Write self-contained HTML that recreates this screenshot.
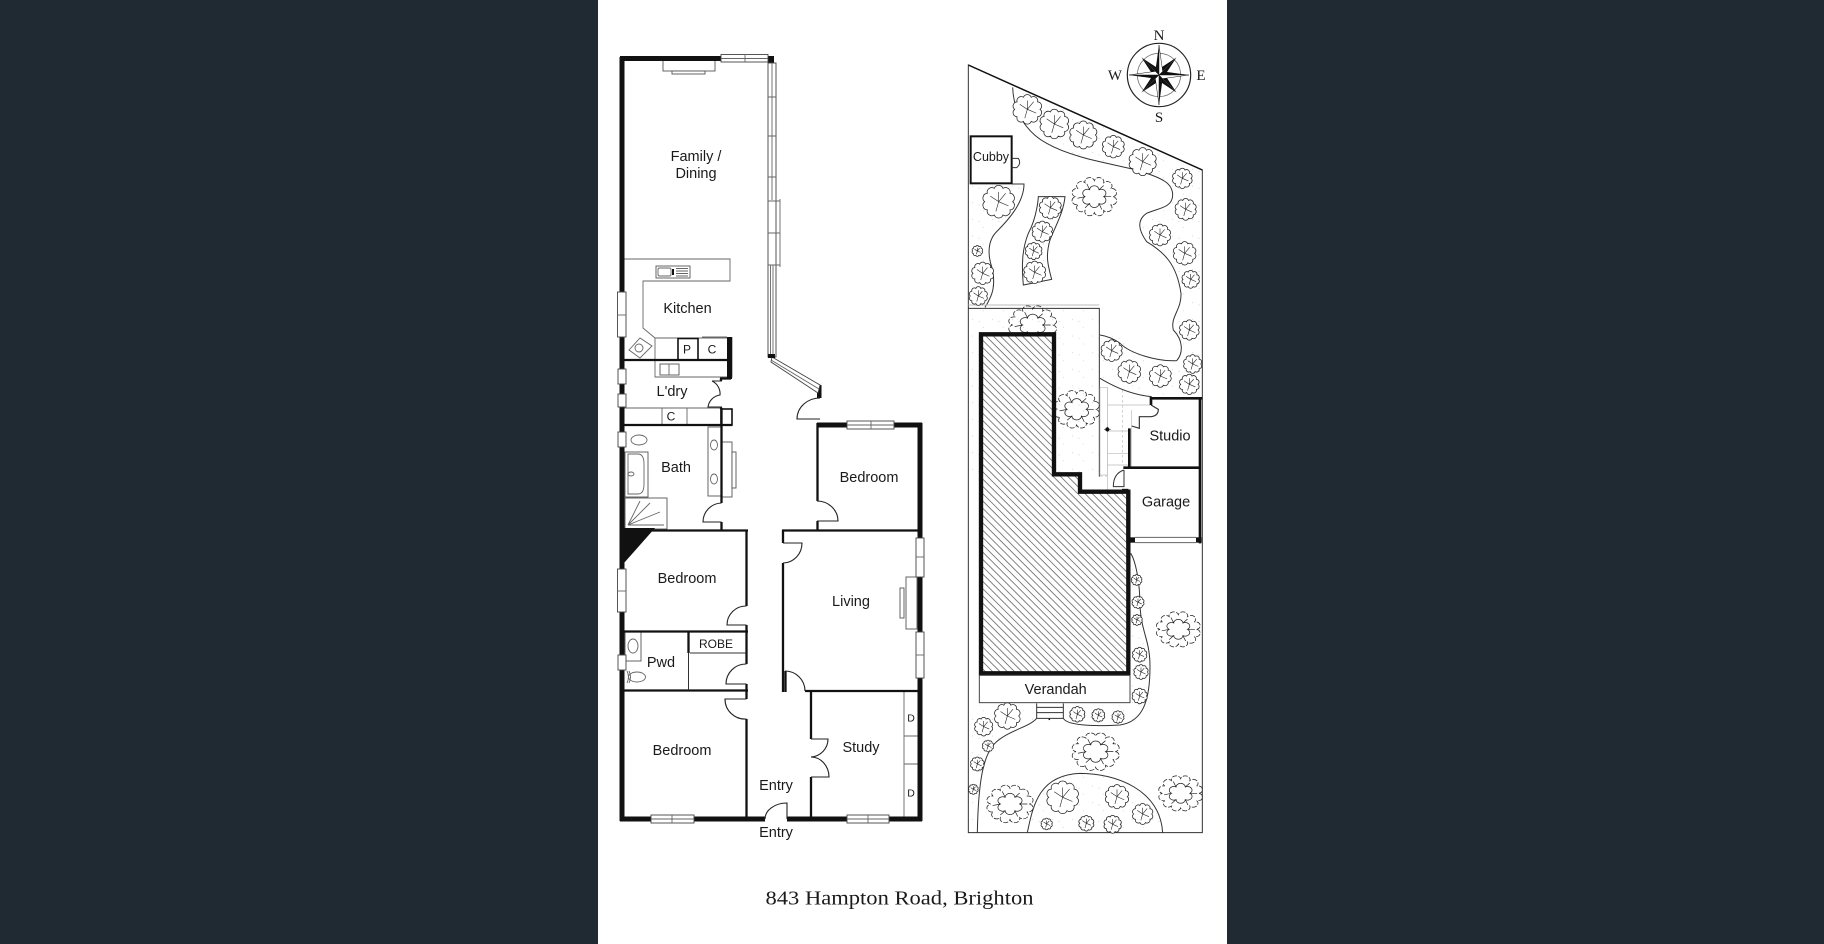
<!DOCTYPE html>
<html><head><meta charset="utf-8"><style>
html,body{margin:0;padding:0;background:#202a33;width:1824px;height:944px;overflow:hidden}
svg{display:block;filter:blur(.3px)}
text{font-family:"Liberation Sans",sans-serif;fill:#1a1a1a;text-anchor:middle}
.t{font-size:14.5px}
.s{font-size:12px}
.w{fill:none;stroke:#111;stroke-width:5}
.m{fill:none;stroke:#111;stroke-width:2.3}
.d{fill:none;stroke:#222;stroke-width:1.1}
.f{fill:#fff;stroke:#555;stroke-width:.9}
.n{fill:none;stroke:#666;stroke-width:.9}
.win{fill:#fff;stroke:#444;stroke-width:.9}
.c{font-family:"Liberation Serif",serif;font-size:15px}
.g{fill:none;stroke:#333;stroke-width:3}
</style></head><body>
<svg width="1824" height="944" viewBox="0 0 1824 944" xmlns="http://www.w3.org/2000/svg">
<defs>
<g id="tr" fill="#fff" stroke="#222">
<path vector-effect="non-scaling-stroke" stroke-width=".75" d="M10 0A3.3 3.3 0 0 1 8.09 5.88A3.3 3.3 0 0 1 3.09 9.51A3.3 3.3 0 0 1 -3.09 9.51A3.3 3.3 0 0 1 -8.09 5.88A3.3 3.3 0 0 1 -10 0A3.3 3.3 0 0 1 -8.09 -5.88A3.3 3.3 0 0 1 -3.09 -9.51A3.3 3.3 0 0 1 3.09 -9.51A3.3 3.3 0 0 1 8.09 -5.88A3.3 3.3 0 0 1 10 0Z"/>
<path vector-effect="non-scaling-stroke" stroke-width=".6" fill="none" d="M0 0L5 -6M0 0L-6 -4M0 0L-2 7M0 0L7 3M0 0L0 -7"/>
</g>
<g id="sh" fill="none" stroke="#222">
<path vector-effect="non-scaling-stroke" stroke-width=".75" d="M10 0A1.9 1.9 0 0 1 8.7 5A1.9 1.9 0 0 1 5 8.7A1.9 1.9 0 0 1 0 10A1.9 1.9 0 0 1 -5 8.7A1.9 1.9 0 0 1 -8.7 5A1.9 1.9 0 0 1 -10 0A1.9 1.9 0 0 1 -8.7 -5A1.9 1.9 0 0 1 -5 -8.7A1.9 1.9 0 0 1 0 -10A1.9 1.9 0 0 1 5 -8.7A1.9 1.9 0 0 1 8.7 -5A1.9 1.9 0 0 1 10 0Z" stroke-dasharray="5 1.5"/>
<path vector-effect="non-scaling-stroke" stroke-width=".75" d="M5 0A1.8 1.8 0 0 1 2.5 4.3A1.8 1.8 0 0 1 -2.5 4.3A1.8 1.8 0 0 1 -5 0A1.8 1.8 0 0 1 -2.5 -4.3A1.8 1.8 0 0 1 2.5 -4.3A1.8 1.8 0 0 1 5 0Z"/>
<path vector-effect="non-scaling-stroke" stroke-width=".7" d="M5 0L9 0M-5 0L-9 1M2.5 4.3L4 8M-2.5 -4.3L-4 -8M2.5 -4.3L5 -7M-2.5 4.3L-5 7"/>
</g>
<pattern id="dots" width="60" height="50" patternUnits="userSpaceOnUse">
<circle cx="8" cy="8" r="1.4" fill="#c4c4c4"/><circle cx="40" cy="32" r="1.4" fill="#ccc"/><rect x="24" y="14" width="7" height="1.5" fill="#d6d6d6"/>
</pattern>
<pattern id="hatch" width="15.5" height="15.5" patternUnits="userSpaceOnUse" patternTransform="rotate(45)">
<rect width="15.5" height="15.5" fill="#fff"/><rect x="0" y="0" width="15.5" height="2.4" fill="#666"/>
</pattern>
<g id="pt"><polygon points="0,-90 0,0 -11,-11" fill="#111"/><polygon points="0,-90 0,0 11,-11" fill="#fff" stroke="#111" stroke-width="1.5"/></g>
<g id="pd"><polygon points="0,-74 0,0 -13,-12" fill="#111"/><polygon points="0,-74 0,0 13,-12" fill="#111"/></g>
</defs>

<rect x="598" y="0" width="629" height="944" fill="#fff"/>

<!-- Fittings -->
<rect class="f" x="663" y="60" width="52" height="11"/><rect class="f" x="672" y="71" width="33" height="3"/>
<path class="n" d="M624 259H730V281H643V328L655 338V360M655 338H727"/>
<rect class="f" x="656" y="266" width="34" height="12"/><rect class="n" x="658" y="268" width="13" height="8" rx="1.5"/>
<path d="M673 269V275" stroke="#111" stroke-width="2"/><path class="n" d="M676 268.5H688M676 271H688M676 273.5H688M676 276H688"/>
<path class="n" d="M629 350L640 338L652 346L640 358Z"/><circle class="n" cx="639" cy="348" r="4"/>
<rect x="678" y="338.5" width="20" height="21.5" fill="#fff" stroke="#111" stroke-width="1.6"/>
<path class="n" d="M702 337H727M655 360V377H732V337M624 408H721M662 408V425M687 408V425"/>
<rect class="f" x="660" y="364" width="19" height="11"/><path class="n" d="M669 364V375"/>
<rect x="721" y="409" width="11" height="16" fill="#fff" stroke="#111" stroke-width="1.6"/>
<rect class="f" x="708" y="427" width="13" height="69"/>
<ellipse class="n" cx="714" cy="445" rx="3.5" ry="5"/><ellipse class="n" cx="714" cy="479" rx="3.5" ry="5"/>
<rect class="f" x="722" y="442" width="10" height="55"/><rect class="f" x="732" y="452" width="4" height="36"/>
<ellipse class="n" cx="639" cy="440" rx="8" ry="5"/>
<rect class="f" x="625" y="452" width="23" height="45"/>
<path class="n" d="M628 454H638Q644 454 644 464V484Q644 494 638 494H628Z"/><ellipse class="n" cx="631" cy="474" rx="3" ry="2"/>
<rect class="f" x="625" y="498" width="42" height="31"/>
<path class="n" d="M628 525L640 501M628 525L650 503M628 525L660 512M628 525L664 525"/>
<polygon points="620,528 655,528 624,563 620,565" fill="#111"/>
<rect class="f" x="625" y="632" width="16" height="29"/><ellipse class="n" cx="633" cy="646" rx="5" ry="7"/>
<ellipse class="n" cx="637" cy="677" rx="8.5" ry="5"/><path class="n" d="M627 671Q630 677 627 683M629 671Q632 677 629 683"/>
<path class="n" d="M904 691V819M904 736H919M904 764H919"/>
<rect class="f" x="906" y="577" width="11" height="52"/><rect class="f" x="900" y="588" width="4" height="30"/>

<!-- Walls -->
<path class="w" d="M622 57V821M620 58.5H721M620 819H765M787 819H922M920 423V821M817 425H922"/>
<path class="m" d="M624 360H728M624 425H732M721.5 408V503M721.5 522V531M624 530.5H748M746.5 530V606M746.5 625V633M624 631.5H748M688.5 631V653M746.5 631V664M746.5 684V699M624 690.5H748M746.5 719V819M811 691V739M811 777V819M805 691H920M782 530.5H920M783 530V543M783 563V692M785.5 671V692M817.5 423V501M817.5 521V531"/>
<path d="M729.5 337V379" stroke="#111" stroke-width="5" fill="none"/>
<path class="m" d="M720 378.5H731M721 378V381M721 407V409"/>
<rect x="817" y="385" width="4.5" height="13" fill="#111"/><rect x="768" y="56" width="6" height="7" fill="#111"/>
<path d="M690 653H746M688.5 653V690" stroke="#333" stroke-width="1"/>

<!-- Doors -->
<path class="d" d="M746.5 606A19 19 0 0 0 727 625H746.5M721.5 503A19 19 0 0 0 703 522H721.5M746.5 664A20 20 0 0 0 726 684H746.5M746.5 719A20 20 0 0 1 725 699H746.5M817 501A21 20 0 0 1 838 521H817M783 543H802A19 20 0 0 1 783 563M785 671A20 20 0 0 1 805 691M811 739H828A18 18 0 0 1 811 757A18 20 0 0 1 829 777H811M820 398A23 21 0 0 0 797 419H820M787 819V803A22 16 0 0 0 765 819M712 381H722M712 381A14 14 0 0 1 720 395A14 14 0 0 0 708 407H722"/>

<!-- Windows -->
<rect class="win" x="721" y="54.5" width="47" height="7.5"/><path class="n" d="M721 58.5H768M745 54.5V62"/>
<rect class="win" x="847" y="421" width="47" height="8"/><path class="n" d="M847 425H894M871 421V429"/>
<rect class="win" x="651" y="815" width="43" height="8"/><path class="n" d="M651 819H694M672 815V823"/>
<rect class="win" x="847" y="815" width="42" height="8"/><path class="n" d="M847 819H889M868 815V823"/>
<rect class="win" x="617.5" y="292" width="8.5" height="45"/><path class="n" d="M617.5 315H626"/>
<rect class="win" x="618" y="369" width="8" height="15"/><rect class="win" x="618" y="394" width="8" height="13"/>
<rect class="win" x="618" y="432" width="8" height="15"/>
<rect class="win" x="617.5" y="569" width="8.5" height="43"/><path class="n" d="M617.5 591H626"/>
<rect class="win" x="618" y="655" width="8" height="15"/>
<rect class="win" x="916" y="538" width="8" height="39"/><path class="n" d="M916 557H924"/>
<rect class="win" x="916" y="632" width="8" height="46"/><path class="n" d="M916 655H924"/>
<rect class="win" x="768" y="63" width="8" height="294"/>
<path class="n" d="M768 97H776M768 136H776M768 177H776M768 201H780M768 233H780M768 265H780M780 199V267M770.5 265V357M773 265V357M772 63V200"/>
<polygon class="win" points="772,357 820,385 818,393 771,362"/><path class="n" d="M771 360L819 389"/>
<rect x="768" y="354" width="7" height="4" fill="#111"/>

<!-- Labels -->
<text class="t" x="696" y="161">Family /</text>
<text class="t" x="696" y="178">Dining</text>
<text class="t" x="687.5" y="313">Kitchen</text>
<text class="t" x="672" y="396">L'dry</text>
<text class="t" x="676" y="472">Bath</text>
<text class="t" x="869" y="482">Bedroom</text>
<text class="t" x="687" y="583">Bedroom</text>
<text class="t" x="851" y="606">Living</text>
<text class="s" x="716" y="648">ROBE</text>
<text class="t" x="661" y="667">Pwd</text>
<text class="t" x="682" y="755">Bedroom</text>
<text class="t" x="861" y="752">Study</text>
<text class="t" x="776" y="790">Entry</text>
<text class="t" x="776" y="837">Entry</text>
<text class="s" x="687" y="353.5">P</text>
<text class="s" x="712" y="353.5">C</text>
<text class="s" x="671" y="420.5">C</text>
<text x="911" y="721.5" style="font-size:10.5px">D</text>
<text x="911" y="796.5" style="font-size:10.5px">D</text>
<text x="899.5" y="904.5" textLength="268" lengthAdjust="spacingAndGlyphs" style="font-family:'Liberation Serif',serif;font-size:20px">843 Hampton Road, Brighton</text>

<!-- Site -->
<g transform="translate(950 0) scale(.33333)">
<path fill="url(#dots)" d="M188 262C190 330 225 395 290 430C370 475 480 490 560 510C640 535 668 550 668 585C668 625 620 625 590 640C560 660 565 690 590 725C640 755 680 790 693 880C695 930 660 950 670 990C700 1020 700 1060 680 1082C620 1085 540 1060 510 1010L450 1005V1135L605 1190H757V510Z"/>
<path fill="url(#dots)" d="M55 552H222C222 610 170 665 140 695C110 725 115 770 125 800C140 860 125 890 105 922H55Z"/>
<rect x="55" y="925" width="393" height="505" fill="url(#dots)"/>
<path fill="url(#dots)" d="M265 590H345C340 640 315 680 300 720C285 770 295 800 305 838L220 855C215 800 215 750 235 700C262 650 265 590 265 590Z"/>
<path fill="url(#dots)" d="M260 2155C240 2180 180 2190 140 2225C100 2260 85 2340 82 2498H55V2115H260Z"/>
<path fill="url(#dots)" d="M340 2155C350 2175 420 2180 510 2175C580 2165 600 2100 600 2000C600 1920 575 1900 570 1820C570 1740 555 1680 542 1660V2115H340Z"/>
<path fill="url(#dots)" d="M232 2498C250 2410 270 2325 390 2320C500 2320 630 2370 638 2498Z"/>

<path class="g" d="M55 195L757 510V2498H55Z"/>
<path d="M55 195L757 510" stroke="#111" stroke-width="4.5"/>

<path class="g" d="M188 262C190 330 225 395 290 430C370 475 480 490 560 510C640 535 668 550 668 585C668 625 620 625 590 640C560 660 565 690 590 725C640 755 680 790 693 880C695 930 660 950 670 990C700 1020 700 1060 680 1082C620 1085 540 1060 510 1030C490 1015 470 1008 450 1005"/>
<path class="g" d="M185 552H222C222 610 170 665 140 695C110 725 115 770 125 800C140 860 125 890 105 922"/>
<path class="g" d="M265 590H345C340 640 315 680 300 720C285 770 295 800 305 838L220 855C215 800 215 750 235 700C262 650 265 590 265 590Z"/>
<path class="g" d="M55 925H448V1430"/>
<path d="M55 915H448" stroke="#bbb" stroke-width="3"/>
<path class="g" d="M450 1135C500 1165 550 1185 605 1190"/>

<g stroke="#bbb" stroke-width="2" fill="none">
<path d="M472 1162V1470M545 1230V1400M450 1215H600M450 1293H540M450 1360H540M450 1395H535"/>
<path d="M517 1170V1395M450 1428H480" stroke-dasharray="8 7"/>
<rect x="450" y="1162" width="22" height="263" fill="#fff"/>
</g>
<circle cx="472" cy="1288" r="6" fill="#111"/><path d="M462 1288H483M472 1280V1296" stroke="#111" stroke-width="1.5"/>

<path class="g" d="M260 2155C240 2180 180 2190 140 2225C100 2260 85 2340 82 2498"/>
<path class="g" d="M340 2155C350 2175 420 2180 510 2175C580 2165 600 2100 600 2000C600 1920 575 1900 570 1820C570 1740 555 1680 542 1660"/>
<path class="g" d="M232 2498C250 2410 270 2325 390 2320C500 2320 630 2370 638 2498"/>
<path class="g" d="M260 2110V2155M340 2110V2155M260 2122H340M260 2138H340M260 2155H340"/>
<circle cx="298" cy="2158" r="2.5" fill="#111"/>

<g id="plants"></g>

<rect x="62" y="409" width="123" height="141" fill="#fff" stroke="#111" stroke-width="6"/>
<path class="g" d="M185 475H205Q215 490 200 503H185"/>
<path d="M93 1003H312V1423H390V1475H535V2020H93Z" fill="url(#hatch)" stroke="#111" stroke-width="13"/>
<rect x="88" y="2026" width="452" height="82" fill="#fff" stroke="#444" stroke-width="3"/>
<path d="M603 1215V1195H757M750 1195V1630M520 1403H750M538 1403V1285" fill="none" stroke="#111" stroke-width="8"/>
<path class="g" d="M603 1215L625 1228Q625 1248 602 1250H568V1285L545 1278" style="stroke-width:3.5"/>
<path d="M535 1470V1630" stroke="#111" stroke-width="12" fill="none"/>
<path d="M516 1470H535" stroke="#111" stroke-width="7" fill="none"/>
<path class="g" d="M522 1410V1460H490Q490 1420 522 1410"/>
<rect x="535" y="1612" width="20" height="16" fill="#111"/><rect x="738" y="1612" width="17" height="16" fill="#111"/>
<path d="M555 1612H738M555 1628H738" stroke="#666" stroke-width="3"/>

<g transform="translate(627 225)">
<circle r="95" fill="#fff" stroke="#222" stroke-width="3.5"/>
<circle r="65" fill="none" stroke="#777" stroke-width="2.5"/>
<use href="#pd" transform="rotate(45)"/><use href="#pd" transform="rotate(135)"/><use href="#pd" transform="rotate(225)"/><use href="#pd" transform="rotate(315)"/>
<use href="#pt"/><use href="#pt" transform="rotate(90)"/><use href="#pt" transform="rotate(180)"/><use href="#pt" transform="rotate(270)"/>
</g>
</g>
<text class="c" x="1159" y="40">N</text>
<text class="c" x="1159" y="122">S</text>
<text class="c" x="1115" y="80">W</text>
<text class="c" x="1201" y="80">E</text>
<text x="991" y="161" style="font-size:12.5px">Cubby</text>
<text class="t" x="1170" y="440.5">Studio</text>
<text class="t" x="1166" y="506.5">Garage</text>
<text class="t" x="1055.7" y="694">Verandah</text>

<script>
var NS="http://www.w3.org/2000/svg",P=document.getElementById("plants");
function add(id,x,y,sx,sy){var u=document.createElementNS(NS,"use");u.setAttribute("href","#"+id);u.setAttribute("transform","translate("+x+" "+y+") scale("+sx+" "+sy+")");P.appendChild(u);}
[[433,590,5.6,4.8],[248,975,6,4.8],[380,1228,5.7,4.7],[685,1888,5.5,4.4],[437,2255,5.9,4.7],[180,2412,5.8,4.7],[692,2380,5.5,4.4]].forEach(function(a){add("sh",a[0],a[1],a[2],a[3]);});
[[232,328,38],[313,372,38],[400,405,36],[490,440,29],[578,485,36],[697,535,26],[707,628,28],[630,705,28],[704,760,30],[722,838,23],[718,990,26],[728,1092,24],[718,1153,26],[485,1052,28],[538,1115,30],[631,1128,29],[146,605,42],[301,623,29],[277,695,27],[251,753,22],[254,817,29],[82,753,14],[98,820,29],[85,888,24],[560,1740,14],[564,1807,16],[561,1860,14],[569,1964,19],[573,2016,19],[569,2088,20],[382,2143,20],[445,2146,17],[504,2151,16],[172,2148,34],[101,2180,24],[114,2238,15],[82,2292,18],[70,2368,13],[338,2392,42],[501,2390,31],[578,2442,27],[290,2472,15],[409,2470,20],[488,2473,23]].forEach(function(a){add("tr",a[0],a[1],a[2]/10,a[2]/10);});
</script>
</svg>
</body></html>
